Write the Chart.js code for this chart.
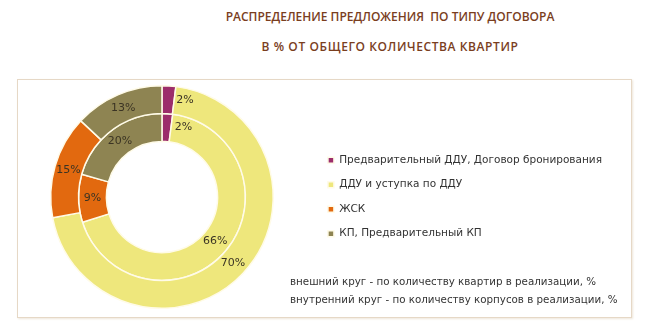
<!DOCTYPE html>
<html>
<head>
<meta charset="utf-8">
<script src="https://cdn.jsdelivr.net/npm/chart.js@4.4.0/dist/chart.umd.min.js"></script>
<style>
  body { margin: 0; background: #fff; width: 655px; height: 330px; position: relative; overflow: hidden; }
  .title { position: absolute; left: 0; width: 780px; text-align: center; font-family: "Open Sans", sans-serif;
           font-weight: 600; font-size: 12px; color: #7a3e1e; }
  #frame { position: absolute; left: 17px; top: 79px; width: 613px; height: 237px;
           border: 1px solid #e6d8c6; box-shadow: 1px 1px 2px #eee6da; }
  #wrap { position: absolute; left: 10px; top: 80px; width: 620px; height: 236px; }
  .note { position: absolute; left: 290px; font-family: "DejaVu Sans", sans-serif; font-size: 10.3px; color: #333; }
</style>
</head>
<body>
<div class="title" style="top:8px">РАСПРЕДЕЛЕНИЕ ПРЕДЛОЖЕНИЯ&nbsp; ПО ТИПУ ДОГОВОРА</div>
<div class="title" style="top:38px; letter-spacing:0.6px">В % ОТ ОБЩЕГО КОЛИЧЕСТВА КВАРТИР</div>
<div id="frame"></div>
<div id="wrap"><canvas id="myChart"></canvas></div>
<div class="note" style="top:275px">внешний круг - по количеству квартир в реализации, %</div>
<div class="note" style="top:293px">внутренний круг - по количеству корпусов в реализации, %</div>
<script>
var categories = ['Предварительный ДДУ, Договор бронирования', 'ДДУ и уступка по ДДУ', 'ЖСК', 'КП, Предварительный КП'];
var outerValues = [2, 70, 15, 13];   // по количеству квартир
var innerValues = [2, 66, 9, 20];    // по количеству корпусов
var colors = ['#9c2d6b', '#eee77c', '#e2690f', '#8e8452'];

// подписи процентов на секторах
var pctLabels = {
  id: 'pctLabels',
  afterDatasetsDraw: function(chart) {
    var ctx = chart.ctx;
    ctx.save();
    ctx.font = '11px "DejaVu Sans", sans-serif';
    ctx.fillStyle = '#3b3424';
    ctx.textAlign = 'center';
    ctx.textBaseline = 'middle';
    chart.data.datasets.forEach(function(ds, i) {
      chart.getDatasetMeta(i).data.forEach(function(arc, j) {
        var p = arc.tooltipPosition();
        var x = p.x;
        if (ds.data[j] < 5) x += 17; // маленький сектор - подпись сбоку
        ctx.fillText(ds.data[j] + '%', x, p.y);
      });
    });
    ctx.restore();
  }
};

var chart = new Chart(document.getElementById('myChart'), {
  type: 'doughnut',
  data: {
    labels: categories,
    datasets: [
      { data: outerValues, backgroundColor: colors, borderColor: '#fffbe8', borderWidth: 1.5 },
      { data: innerValues, backgroundColor: colors, borderColor: '#fffbe8', borderWidth: 1.5 }
    ]
  },
  options: {
    responsive: true,
    maintainAspectRatio: false,
    animation: false,
    cutout: '50%',
    layout: { padding: { top: 5, bottom: 7, left: 0, right: 18 } },
    plugins: {
      tooltip: { enabled: false },
      legend: {
        position: 'right',
        align: 'center',
        labels: {
          boxWidth: 6,
          boxHeight: 6,
          padding: 14,
          color: '#333',
          font: { family: '"DejaVu Sans", sans-serif', size: 10.5 }
        }
      }
    }
  },
  plugins: [pctLabels]
});
</script>
</body>
</html>
